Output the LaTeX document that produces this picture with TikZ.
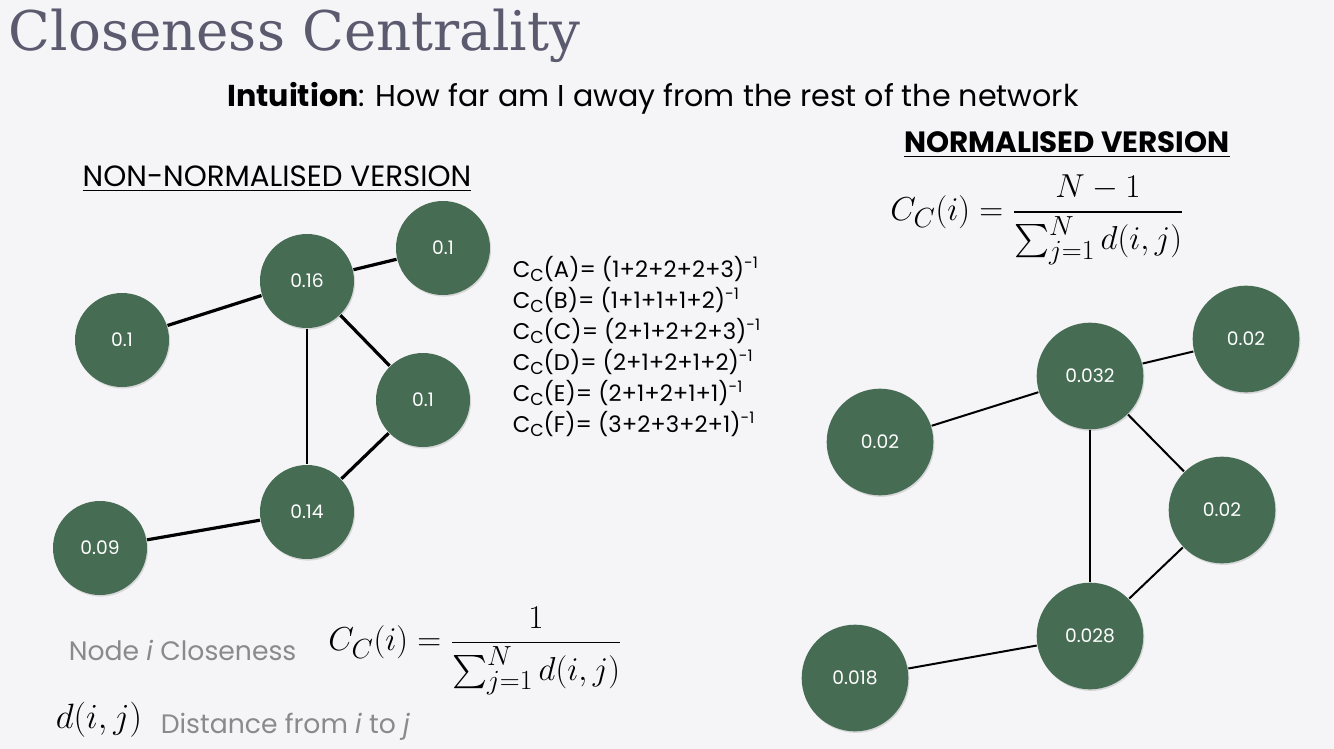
\documentclass[tikz,border=0pt]{standalone}
\usepackage{exscale}
\usepackage{fontspec}
\newfontfamily\bodyfont{Poppins}
\newfontfamily\titlefont{DejaVu Serif}
\usetikzlibrary{shadows}
\definecolor{nodegreen}{HTML}{466D53}
\definecolor{bgcol}{HTML}{F5F5F8}
\definecolor{titlecol}{HTML}{5B5A6E}
\definecolor{greytext}{HTML}{8A8A8A}
\newcommand{\subC}{\raisebox{-0.22em}{\fontsize{13}{13}\selectfont C}}

\begin{document}
\begin{tikzpicture}[x=0.75pt, y=-0.75pt, -, very thick,
  main node/.style={circle, fill=nodegreen, text=white, minimum size=70.5pt, inner sep=0pt,
    font=\bodyfont\fontsize{14}{14}\selectfont,
    drop shadow={opacity=0.25, shadow xshift=0.8pt, shadow yshift=-1.2pt}},
  big node/.style={main node, minimum size=80pt},
  eqn/.style={anchor=base west, inner sep=0pt, font=\bodyfont\fontsize{17}{17}\selectfont},
  grey text/.style={anchor=base west, inner sep=0pt, text=greytext, font=\bodyfont\fontsize{20}{20}\selectfont}]
  \fill[bgcol] (0, 0) rectangle (1334, 749);
  \useasboundingbox (0, 0) rectangle (1334, 749);
  % headings
  \node[anchor=base west, inner sep=0pt, text=titlecol, font=\titlefont\fontsize{41}{41}\selectfont] (title) at (8, 51) {Closeness Centrality};
  \node[anchor=base, inner sep=0pt, font=\bodyfont\fontsize{22.6}{22.6}\selectfont] (intuition) at (653, 106) {\textbf{Intuition}: How far am I away from the rest of the network};
  \node[anchor=base, inner sep=0pt, font=\bodyfont\fontsize{22}{22}\selectfont] (nonnorm) at (277, 186) {\underline{NON-NORMALISED VERSION}};
  \node[anchor=base, inner sep=0pt, font=\bodyfont\fontsize{22}{22}\selectfont] (norm) at (1067, 152) {\underline{\textbf{NORMALISED VERSION}}};
  % left network
  \node[main node] (l1) at (122, 340) {0.1};
  \node[main node] (l2) at (307, 281) {0.16};
  \node[main node] (l3) at (443, 248) {0.1};
  \node[main node] (l4) at (423, 400) {0.1};
  \node[main node] (l5) at (307, 512) {0.14};
  \node[main node] (l6) at (100, 548) {0.09};
  \path[line width=2.4pt]
    (l1) edge (l2)
    (l2) edge (l3)
    (l2) edge (l4)
    (l4) edge (l5)
    (l5) edge (l6);
  \path[line width=1.9pt]
    (l2) edge (l5);
  % path lengths
  \node[eqn] (ca) at (512, 277) {C\subC(A)= (1+2+2+2+3)\textsuperscript{-1}};
  \node[eqn] (cb) at (512, 308) {C\subC(B)= (1+1+1+1+2)\textsuperscript{-1}};
  \node[eqn] (cc) at (512, 339) {C\subC(C)= (2+1+2+2+3)\textsuperscript{-1}};
  \node[eqn] (cd) at (512, 370) {C\subC(D)= (2+1+2+1+2)\textsuperscript{-1}};
  \node[eqn] (ce) at (512, 401) {C\subC(E)= (2+1+2+1+1)\textsuperscript{-1}};
  \node[eqn] (cf) at (512, 432) {C\subC(F)= (3+2+3+2+1)\textsuperscript{-1}};
  % right network
  \node[big node] (r1) at (880, 442) {0.02};
  \node[big node] (r2) at (1090, 376) {0.032};
  \node[big node] (r3) at (1246, 339) {0.02};
  \node[big node] (r4) at (1222, 510) {0.02};
  \node[big node] (r5) at (1090, 636) {0.028};
  \node[big node] (r6) at (855, 678) {0.018};
  \path[line width=1.5pt]
    (r1) edge (r2)
    (r2) edge (r3)
    (r2) edge (r4)
    (r4) edge (r5)
    (r5) edge (r6)
    (r2) edge (r5);
  % formulas
  \node[font=\fontsize{24.88}{25}\selectfont] (normeq) at (1037, 220) {$\displaystyle C_C(i)=\frac{N-1}{\sum_{j=1}^{N} d(i,j)}$};
  \node[grey text] (closeness) at (68, 660) {Node \textit{i} Closeness};
  \node[font=\fontsize{24.88}{25}\selectfont] (closeq) at (475, 651) {$\displaystyle C_C(i)=\frac{1}{\sum_{j=1}^{N} d(i,j)}$};
  \node[anchor=base west, inner sep=0pt, font=\fontsize{24.88}{25}\selectfont] (dij) at (55, 728) {\scalebox{1.06}{$d(i,j)$}};
  \node[grey text] (distance) at (160, 733) {Distance from \textit{i} to \textit{j}};
\end{tikzpicture}
\end{document}
